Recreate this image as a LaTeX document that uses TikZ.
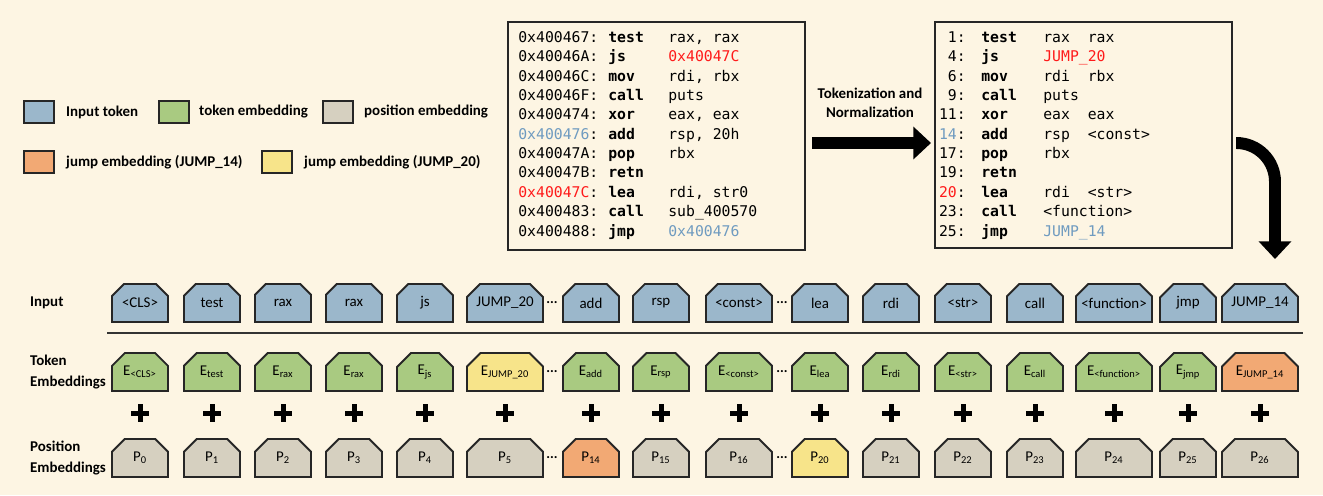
\documentclass[tikz,border=0pt]{standalone}
\usepackage{fontspec}
\setmainfont{Carlito}
\setmonofont{DejaVu Sans Mono}
\usetikzlibrary{positioning, shapes.misc, arrows.meta}
\definecolor{bg}{HTML}{FDF5E3}
\definecolor{tokblue}{HTML}{9BB7CB}
\definecolor{embgreen}{HTML}{A9CA81}
\definecolor{posgray}{HTML}{D6D0C0}
\definecolor{jumporange}{HTML}{F2A974}
\definecolor{jumpyellow}{HTML}{F7E48A}
\definecolor{addrblue}{HTML}{6F9BC0}
\definecolor{addrred}{HTML}{FF1A1A}
\tikzset{
  tokbox/.style={chamfered rectangle, chamfered rectangle corners={north west,north east},
    chamfered rectangle xsep=4pt, chamfered rectangle ysep=4pt,
    draw=black!85, line width=1.1pt, inner sep=0pt, minimum height=0.76cm, font=\fontsize{8.5}{10}\selectfont},
  legbox/.style={tokbox, minimum width=0.6cm, minimum height=0.44cm, chamfered rectangle xsep=2.5pt, chamfered rectangle ysep=2.5pt},
  rowlabel/.style={anchor=west, align=left, font=\bfseries\fontsize{8.5}{12}\selectfont},
  legtext/.style={anchor=west, font=\bfseries\fontsize{8.5}{10}\selectfont},
  codebox/.style={draw=black!85, line width=1.1pt, fill=bg},
  code/.style={anchor=west, inner sep=0pt, font=\ttfamily\fontsize{8.4}{10}\selectfont},
  bigarrow/.style={line width=6.8pt, -{Triangle[width=18pt,length=10pt]}}
}
\begin{document}
\begin{tikzpicture}[x=0.02cm, y=-0.02cm]
\useasboundingbox[fill=bg] (0,0) rectangle (1323,495);

% legend
\node (leg1) at (39,112) [legbox, fill=tokblue] {};
\node (legt1) at (60,112) [legtext] {Input token};
\node (leg2) at (174,112) [legbox, fill=embgreen] {};
\node (legt2) at (193,112) [legtext] {token embedding};
\node (leg3) at (338,112) [legbox, fill=posgray] {};
\node (legt3) at (358,112) [legtext] {position embedding};
\node (leg4) at (39,162) [legbox, fill=jumporange] {};
\node (legt4) at (60,162) [legtext] {jump embedding (JUMP\_14)};
\node (leg5) at (277,162) [legbox, fill=jumpyellow] {};
\node (legt5) at (298,162) [legtext] {jump embedding (JUMP\_20)};

% original assembly
\draw[codebox] (508,22) rectangle (805,250);
\foreach \ad/\mn/\op [count=\i from 0] in {
  0x400467/test/{rax, rax}, 0x40046A/js/{\textcolor{addrred}{0x40047C}},
  0x40046C/mov/{rdi, rbx}, 0x40046F/call/puts, 0x400474/xor/{eax, eax},
  {\textcolor{addrblue}{0x400476}}/add/{rsp, 20h}, 0x40047A/pop/rbx, 0x40047B/retn/{},
  {\textcolor{addrred}{0x40047C}}/lea/{rdi, str0}, 0x400483/call/sub\_400570,
  0x400488/jmp/{\textcolor{addrblue}{0x400476}}} {
  \node (ad\i) at (518,39+19.35*\i) [code] {\strut\ad:};
  \node (mn\i) at (608,39+19.35*\i) [code] {\strut\textbf{\mn}};
  \node (op\i) at (668,39+19.35*\i) [code] {\strut\op};
}

% normalized
\draw[codebox] (935,22) rectangle (1232,248);
\foreach \nr/\mn/\op [count=\i from 0] in {
  1/test/rax~~rax, 4/js/{\textcolor{addrred}{JUMP\_20}}, 6/mov/rdi~~rbx,
  9/call/puts, 11/xor/eax~~eax, {\textcolor{addrblue}{14}}/add/rsp~~<const>,
  17/pop/rbx, 19/retn/{}, {\textcolor{addrred}{20}}/lea/rdi~~<str>,
  23/call/<function>, 25/jmp/{\textcolor{addrblue}{JUMP\_14}}} {
  \node (nr\i) at (966,39+19.35*\i) [code, anchor=east] {\strut\nr:};
  \node (nm\i) at (981,39+19.35*\i) [code] {\strut\textbf{\mn}};
  \node (no\i) at (1043,39+19.35*\i) [code] {\strut\op};
}

% arrows
\coordinate (tokstart) at (812,143);
\coordinate (tokend) at (931,143);
\draw[bigarrow] (tokstart) -- (tokend);
\node (toklabel) at (870,103) [align=center, font=\bfseries\fontsize{8.5}{11}\selectfont] {Tokenization and\\Normalization};
\coordinate (bendstart) at (1236,143);
\coordinate (bendend) at (1275,259);
\draw[bigarrow, rounded corners=22] (bendstart) -| (bendend);

% rows
\node (lblin) at (24,303) [rowlabel] {Input};
\node (lbltok) at (24,372) [rowlabel] {Token\\Embeddings};
\node (lblpos) at (24,458) [rowlabel] {Position\\Embeddings};
\draw[line width=1.2pt, black!80] (107,333) -- (1303,333);

\foreach \x/\w/\tok/\emb/\pos/\ec/\pc [count=\i] in {
  140/56/{<CLS>}/{\textsubscript{\fontsize{6}{6}\selectfont<CLS>}}/0/embgreen/posgray,
  212/56/test/{\textsubscript{test}}/1/embgreen/posgray,
  283/56/rax/{\textsubscript{rax}}/2/embgreen/posgray,
  354/56/rax/{\textsubscript{rax}}/3/embgreen/posgray,
  425/56/js/{\textsubscript{js}}/4/embgreen/posgray,
  505/76/JUMP\_20/{\textsubscript{JUMP\_20}}/5/jumpyellow/posgray,
  591/56/add/{\textsubscript{add}}/14/embgreen/jumporange,
  661/56/rsp/{\textsubscript{rsp}}/15/embgreen/posgray,
  739/66/{<const>}/{\textsubscript{\fontsize{6}{6}\selectfont<const>}}/16/embgreen/posgray,
  820/56/lea/{\textsubscript{lea}}/20/embgreen/jumpyellow,
  891/56/rdi/{\textsubscript{rdi}}/21/embgreen/posgray,
  963/56/{<str>}/{\textsubscript{<str>}}/22/embgreen/posgray,
  1035/56/call/{\textsubscript{call}}/23/embgreen/posgray,
  1114/76/{<function>}/{\textsubscript{<function>}}/24/embgreen/posgray,
  1188/56/jmp/{\textsubscript{jmp}}/25/embgreen/posgray,
  1260/76/JUMP\_14/{\textsubscript{JUMP\_14}}/26/jumporange/posgray} {
  \node (in\i) at (\x,303) [tokbox, fill=tokblue, minimum width=\w*0.02cm] {\tok};
  \node (te\i) at (\x,372) [tokbox, fill=\ec, minimum width=\w*0.02cm] {E\emb};
  \node (pe\i) at (\x,458) [tokbox, fill=\pc, minimum width=\w*0.02cm] {P\textsubscript{\pos}};
  \fill (\x-9,410.5) rectangle (\x+9,415.5);
  \fill (\x-2.5,404) rectangle (\x+2.5,422);
}
\foreach \x in {552,782} {
  \node at (\x,303) {\bfseries\fontsize{8}{8}\selectfont...};
  \node at (\x,372) {\bfseries\fontsize{8}{8}\selectfont...};
  \node at (\x,458) {\bfseries\fontsize{8}{8}\selectfont...};
}
\end{tikzpicture}
\end{document}
